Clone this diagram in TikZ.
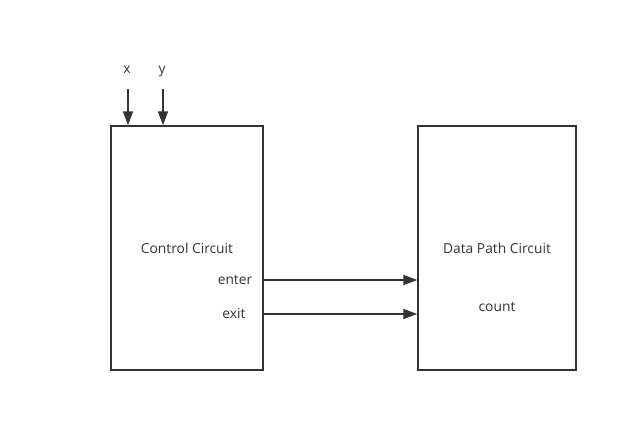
\documentclass[tikz,border=0pt]{standalone}
\usepackage{fontspec}
\setmainfont{Open Sans}
\usetikzlibrary{arrows.meta}
\definecolor{ink}{HTML}{333333}
\tikzset{
  blockbox/.style={draw=ink, line width=1.5pt, minimum width=#1, minimum height=244pt, inner sep=0pt},
  lbl/.style={text=ink, font=\fontsize{13.8pt}{16pt}\selectfont, inner sep=0pt, text height=1.5ex, text depth=0.25ex},
  sig/.style={draw=ink, line width=1.7pt, -{Triangle[length=14pt,width=10pt]}},
}
\begin{document}
\begin{tikzpicture}[x=1pt,y=-1pt]
\useasboundingbox (0,0) rectangle (639,432);
\node[blockbox=152pt] (ctrl) at (187,248) {};
\node[blockbox=158pt] (dp) at (497,248) {};
\node[lbl] (tctrl) at (187,250) {Control Circuit};
\node[lbl] (tdp) at (497,250) {Data Path Circuit};
\node[lbl] (tcount) at (497,308) {count};
\node[lbl] (tenter) at (235,281.5) {enter};
\node[lbl] (texit) at (234,315.5) {exit};
\node[lbl] (tx) at (127,70.5) {x};
\node[lbl] (ty) at (162,70.5) {y};
\coordinate (xs) at (128,89);
\coordinate (ys) at (163,89);
\draw[sig] (xs) -- (xs |- ctrl.north);
\draw[sig] (ys) -- (ys |- ctrl.north);
\draw[sig] (ctrl.east |- 0,280) -- (dp.west |- 0,280);
\draw[sig] (ctrl.east |- 0,314) -- (dp.west |- 0,314);
\end{tikzpicture}
\end{document}
